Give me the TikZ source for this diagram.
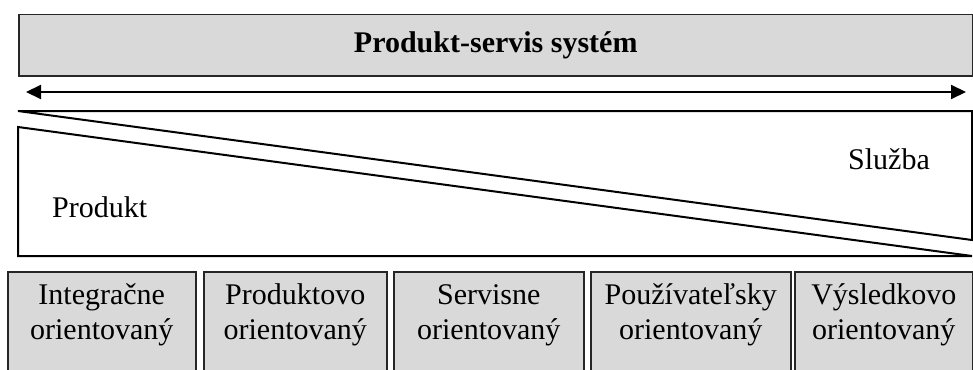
\documentclass[tikz,border=0pt]{standalone}
\usepackage{fontspec}
\setmainfont{Liberation Serif}
\usetikzlibrary{arrows.meta,positioning}
\definecolor{boxgray}{HTML}{D9D9D9}
\tikzset{
  graybox/.style={draw=black!85, fill=boxgray, line width=1.5pt, inner sep=0pt},
  bigtext/.style={font=\fontsize{30}{35}\selectfont, inner sep=0pt},
  boxtext/.style={bigtext, align=center},
  wedge/.style={draw=black, line width=2pt, line join=miter},
}

\begin{document}
\begin{tikzpicture}[x=1pt,y=-1pt]
    \useasboundingbox (0,0) rectangle (973,369);
    \clip (0,0) rectangle (973,369);

    % top bar
    \node[graybox, minimum width=954pt, minimum height=61pt, anchor=north west,
          font=\fontsize{30}{35}\selectfont\bfseries] (pss) at (18,14) {Produkt-servis systém};

    \coordinate (al) at (26,92);
    \coordinate (ar) at (966,92);
    \draw[line width=2pt, {Triangle[length=15pt,width=14pt]}-{Triangle[length=15pt,width=14pt]}] (al) -- (ar);

    % wedges
    \draw[wedge] (18,111) -- (972,111) -- (972,240) -- cycle;
    \draw[wedge] (18,127) -- (972,256) -- (18,256) -- cycle;

    \node[bigtext, anchor=base west] (sluzba) at (848,169) {Služba};
    \node[bigtext, anchor=base west] (produkt) at (52,217) {Produkt};

    % types
    \node[graybox, minimum width=188pt, minimum height=130pt, anchor=north west] (box1) at (7,271) {};
    \node[graybox, minimum width=183pt, minimum height=130pt, anchor=north west] (box2) at (203,271) {};
    \node[graybox, minimum width=190pt, minimum height=130pt, anchor=north west] (box3) at (393,271) {};
    \node[graybox, minimum width=200pt, minimum height=130pt, anchor=north west] (box4) at (590,271) {};
    \node[graybox, minimum width=178pt, minimum height=130pt, anchor=north west] (box5) at (794,271) {};

    \node[boxtext] (lbl1) at ([yshift=-44pt]box1.north) {Integračne\\orientovaný};
    \node[boxtext] (lbl2) at ([yshift=-44pt]box2.north) {Produktovo\\orientovaný};
    \node[boxtext] (lbl3) at ([yshift=-44pt]box3.north) {Servisne\\orientovaný};
    \node[boxtext] (lbl4) at ([yshift=-44pt]box4.north) {Používateľsky\\orientovaný};
    \node[boxtext] (lbl5) at ([yshift=-44pt]box5.north) {Výsledkovo\\orientovaný};
\end{tikzpicture}
\end{document}
